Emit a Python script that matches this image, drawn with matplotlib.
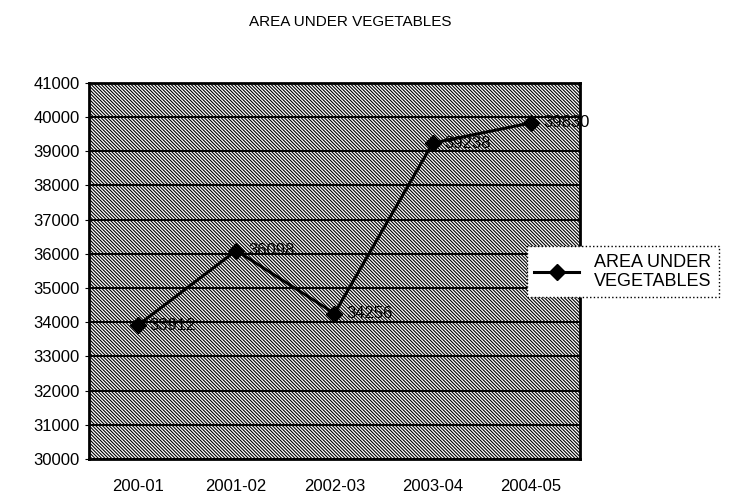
import matplotlib
matplotlib.use('Agg')
import matplotlib.pyplot as plt
from matplotlib.patches import Rectangle

plt.rcParams['font.family'] = ['Liberation Sans', 'DejaVu Sans']
plt.rcParams['hatch.linewidth'] = 0.8

years = ['200-01', '2001-02', '2002-03', '2003-04', '2004-05']
area = [33912, 36098, 34256, 39238, 39830]
yticks = list(range(30000, 41001, 1000))

fig = plt.figure(figsize=(7.4, 4.99), dpi=100)
ax = fig.add_axes([0.120, 0.080, 0.664, 0.754])

# hatched plot area, like the scanned excel fill
ax.add_patch(Rectangle((0, 0), 1, 1, transform=ax.transAxes, facecolor='white',
                       edgecolor='black', hatch='\\' * 10, lw=0, zorder=0))
for t in yticks:
    ax.axhline(t, color='black', lw=1.4, zorder=1)

x = list(range(len(years)))
line, = ax.plot(x, area, color='black', lw=2.2, marker='D', markersize=8, zorder=3,
                label='AREA UNDER\nVEGETABLES')
for xi, v in zip(x, area):
    ax.text(xi + 0.12, v, str(v), fontsize=12, va='center', ha='left', zorder=4)

ax.set_xlim(-0.5, 4.5)
ax.set_ylim(30000, 41000)
ax.set_yticks(yticks)
ax.set_xticks(x)
ax.set_xticklabels(years)
ax.tick_params(axis='both', labelsize=12, length=3, direction='out')
ax.tick_params(axis='x', pad=14, length=0)
for s in ax.spines.values():
    s.set_linewidth(2)

fig.text(0.473, 0.955, 'AREA UNDER VEGETABLES', ha='center', va='center', fontsize=11)

leg = fig.legend(handles=[line], loc='center left', bbox_to_anchor=(0.70, 0.455),
                 frameon=True, fontsize=13, handlelength=2.5, borderpad=0.4,
                 fancybox=False, framealpha=1)
leg.get_frame().set_edgecolor('black')
leg.get_frame().set_linestyle(':')
leg.get_frame().set_linewidth(1)

fig.savefig('out.png', dpi=100)
